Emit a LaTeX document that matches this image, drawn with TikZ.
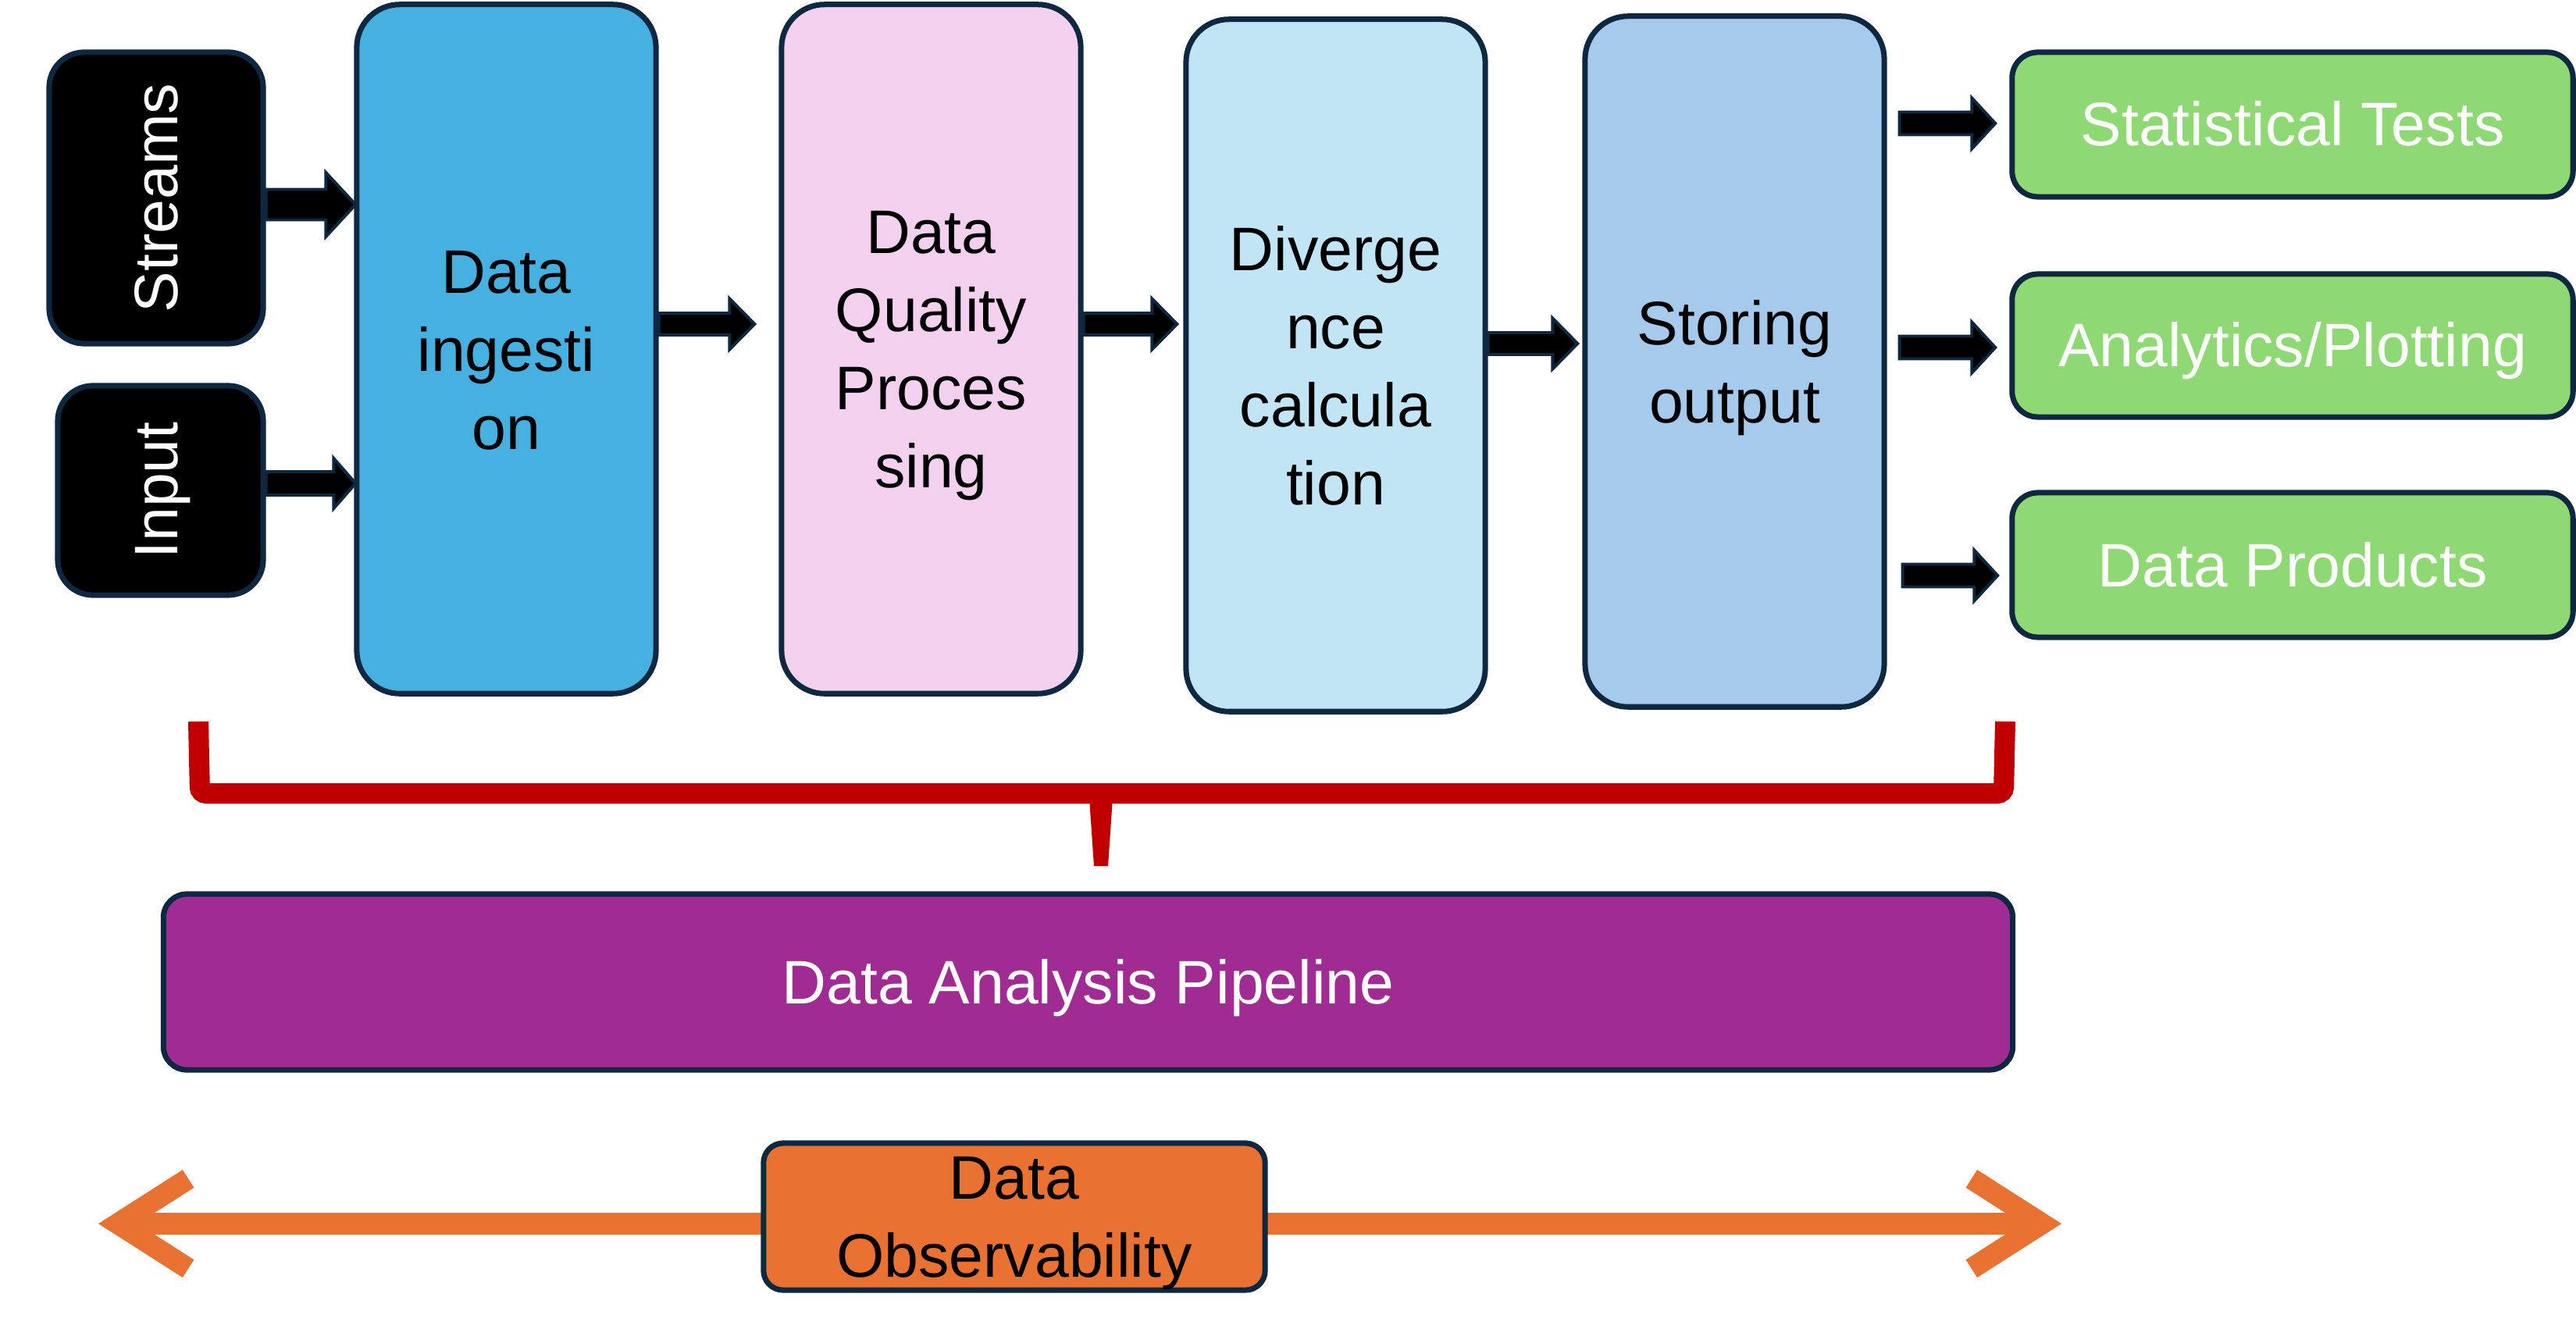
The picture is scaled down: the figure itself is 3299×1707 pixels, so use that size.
\documentclass[tikz,border=0pt]{standalone}
\usepackage{fontspec}
\setmainfont{Liberation Sans}
\usetikzlibrary{arrows.meta,calc}
\definecolor{navy}{HTML}{0E2841}
\definecolor{cingest}{HTML}{46B0E0}
\definecolor{cquality}{HTML}{F2D0EE}
\definecolor{cdiverg}{HTML}{C1E5F5}
\definecolor{cstore}{HTML}{A6CAEC}
\definecolor{cgreen}{HTML}{8ED973}
\definecolor{cpurple}{HTML}{A02B93}
\definecolor{corange}{HTML}{E97132}
\definecolor{cred}{HTML}{C00000}
\newcommand\blockarr[5]{\draw[arrowst] ($(#1)+(0,-#3)$) -- ($(#2)+(-#5,-#3)$) -- ($(#2)+(-#5,-#4)$) -- (#2) -- ($(#2)+(-#5,#4)$) -- ($(#2)+(-#5,#3)$) -- ($(#1)+(0,#3)$) -- cycle;}
\begin{document}
\begin{tikzpicture}[x=0.01cm,y=-0.01cm,
  box/.style={draw=navy, line width=2pt, rounded corners=0.55cm, inner sep=0pt},
  txt/.style={inner sep=0pt, align=center, font=\fontsize{22.4}{28.45}\selectfont, text=black},
  wtxt/.style={txt, text=white},
  blackbox/.style={box, fill=black, rounded corners=0.45cm},
  stagebox/.style={box, minimum width=3.83cm},
  greenbox/.style={box, fill=cgreen, rounded corners=0.33cm, minimum width=7.18cm},
  arrowst/.style={draw=navy, fill=black, line width=1.1pt, line join=miter},
  brace/.style={draw=cred, line width=0.26cm, rounded corners=0.08cm},
  obsarrow/.style={draw=corange, line width=0.27cm, {Straight Barb[length=0.9cm,width=1.15cm]}-{Straight Barb[length=0.9cm,width=1.15cm]}}
]
\useasboundingbox (0,0) rectangle (3299,1707);

% input boxes
\node[blackbox, minimum width=2.74cm, minimum height=3.73cm] (streams) at (200,253.5) {};
\node[wtxt, rotate=90] (streamstxt) at (streams.center) {Streams};
\node[blackbox, minimum width=2.63cm, minimum height=2.68cm] (input) at (205.5,628) {};
\node[wtxt, rotate=90] (inputtxt) at ($(input.center)+(3,0)$) {Input};

% pipeline stages
\node[stagebox, fill=cingest, minimum height=8.82cm] (ingest) at (648.5,447) {};
\node[txt] (ingesttxt) at ($(ingest.center)+(0,2)$) {Data\\ingesti\\on};
\node[stagebox, fill=cquality, minimum height=8.82cm] (quality) at (1192.5,447) {};
\node[txt] (qualitytxt) at ($(quality.center)+(0,9)$) {Data\\Quality\\Proces\\sing};
\node[stagebox, fill=cdiverg, minimum height=8.86cm] (diverg) at (1710.5,468) {};
\node[txt] (divergtxt) at ($(diverg.center)+(0,0)$) {Diverge\\nce\\calcula\\tion};
\node[stagebox, fill=cstore, minimum height=8.84cm] (storing) at (2221.5,463) {};
\node[txt] (storingtxt) at ($(storing.center)+(0,8)$) {Storing\\output};

% outputs
\node[greenbox, minimum height=1.85cm] (stat) at (2936,159.5) {};
\node[wtxt] (stattxt) at ($(stat.center)+(0,-1)$) {Statistical Tests};
\node[greenbox, minimum height=1.83cm] (analytics) at (2936,442.5) {};
\node[wtxt] (analyticstxt) at ($(analytics.center)+(0,7)$) {Analytics/Plotting};
\node[greenbox, minimum height=1.85cm] (products) at (2936,723.5) {};
\node[wtxt] (productstxt) at ($(products.center)+(0,0)$) {Data Products};

\node[box, fill=cpurple, rounded corners=0.3cm, minimum width=23.67cm, minimum height=2.25cm] (pipeline) at (1393.5,1257.5) {};
\node[wtxt] (pipelinetxt) at ($(pipeline.center)+(0,8)$) {Data Analysis Pipeline};

% block arrows
\coordinate (a1s) at ($(streams.east)+(0,8.5)$);
\coordinate (a1e) at ($(ingest.west)+(2,-185)$);
\blockarr{a1s}{a1e}{19.5}{41}{38}
\coordinate (a2s) at ($(input.east)+(0,-9)$);
\coordinate (a2e) at ($(ingest.west)+(2,172)$);
\blockarr{a2s}{a2e}{15}{32}{28}
\coordinate (a3s) at ($(ingest.east)+(0,-32)$);
\coordinate (a3e) at ($(quality.west)+(-31,-32)$);
\blockarr{a3s}{a3e}{14}{32.5}{32}
\coordinate (a4s) at ($(quality.east)+(0,-32)$);
\coordinate (a4e) at ($(diverg.west)+(-8,-53)$);
\blockarr{a4s}{a4e}{14}{32.5}{32}
\coordinate (a5s) at ($(diverg.east)+(0,-28)$);
\coordinate (a5e) at ($(storing.west)+(-6,-23)$);
\blockarr{a5s}{a5e}{14}{32.5}{32}
\coordinate (a6s) at ($(storing.east)+(16,-305)$);
\coordinate (a6e) at ($(stat.west)+(-18,-1.5)$);
\blockarr{a6s}{a6e}{14.5}{32.5}{30}
\coordinate (a7s) at ($(storing.east)+(16,-18)$);
\coordinate (a7e) at ($(analytics.west)+(-18,2.5)$);
\blockarr{a7s}{a7e}{14.5}{32.5}{30}
\coordinate (a8s) at ($(storing.east)+(20,274)$);
\coordinate (a8e) at ($(products.west)+(-15,13.5)$);
\blockarr{a8s}{a8e}{14.5}{32.5}{30}

% brace
\draw[brace] (254,924) -- (256,1016) -- (2566,1016) -- (2568,924);
\fill[cred] (1395,1022) -- (1425,1022) -- (1419,1109) -- (1401,1109) -- cycle;

% observability arrow
\coordinate (oL) at (126,1567);
\coordinate (oR) at (2640,1567);
\draw[obsarrow] (oL) -- (oR);
\node[box, fill=corange, rounded corners=0.25cm, minimum width=6.42cm, minimum height=1.88cm] (obs) at (1299,1558) {};
\node[txt] (obstxt) at ($(obs.center)+(0,9)$) {Data\\Observability};
\end{tikzpicture}
\end{document}
